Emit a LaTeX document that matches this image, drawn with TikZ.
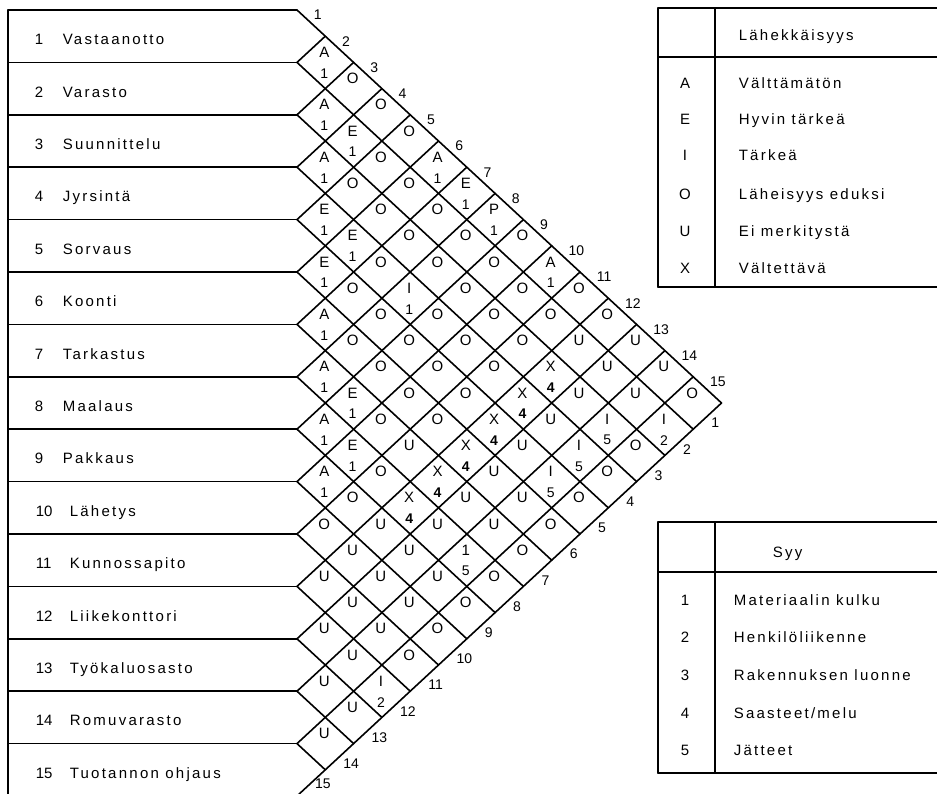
\documentclass[tikz,border=0pt]{standalone}
\usepackage{fontspec}
\setmainfont{Liberation Sans}
\newfontfamily\spaced{Liberation Sans}[LetterSpace=15]
\begin{document}
\begin{tikzpicture}[x=1pt,y=-1pt,line width=1.6pt,line cap=round,line join=miter,
  lbl/.style={font=\spaced\fontsize{15}{18}\selectfont,anchor=base west,inner sep=0pt},
  lnum/.style={font=\fontsize{15}{18}\selectfont,anchor=base west,inner sep=0pt},
  cell/.style={font=\fontsize{15}{16}\selectfont,inner sep=0pt},
  celld/.style={font=\fontsize{14}{16}\selectfont,inner sep=0pt},
  edgenum/.style={font=\fontsize{14}{16}\selectfont,anchor=west,inner sep=0pt},
  legl/.style={font=\fontsize{15}{18}\selectfont,anchor=base,inner sep=0pt}]
\useasboundingbox (0,0) rectangle (937,794);
\clip (0,0) rectangle (937,794);
\def\W{28.3}
\def\H{26.2}
% row boxes
\foreach \m in {0,...,15} \draw (8,{10+2*\H*\m}) -- (297,{10+2*\H*\m});
\draw (8,10) -- (8,{10+30*\H});
% diagonal grid
\foreach \m in {0,...,14} \draw (297,{10+2*\H*\m}) -- ++({(15-\m)*\W},{(15-\m)*\H});
\foreach \m in {1,...,15} \draw (297,{10+2*\H*\m}) -- ++({\m*\W},{-\m*\H});
% row labels
\foreach \i/\t in {1/Vastaanotto,2/Varasto,3/Suunnittelu,4/Jyrsintä,5/Sorvaus,6/Koonti,7/Tarkastus,8/Maalaus,9/Pakkaus}
  {\node[lnum] (n\i) at (34,{10+(2*\i-1)*\H+8.5}) {\i};
   \node[lbl] (r\i) at (62,{10+(2*\i-1)*\H+8.5}) {\t};}
\foreach \i/\t in {10/Lähetys,11/Kunnossapito,12/Liikekonttori,13/Työkaluosasto,14/Romuvarasto,15/Tuotannon ohjaus}
  {\node[lnum] (n\i) at (35,{10+(2*\i-1)*\H+8.5}) {\i};
   \node[lbl] (r\i) at (69,{10+(2*\i-1)*\H+8.5}) {\t};}
% edge numbers
\foreach \j in {1,...,15} \node[edgenum] (t\j) at ({297+(\j-1)*\W+16},{10+(\j-1)*\H+5}) {\j};
\foreach \k in {1,...,14} \node[edgenum] (b\k) at ({297+(16-\k)*\W-11},{10+(\k+14)*\H+20}) {\k};
\node[edgenum] (b15) at ({297+\W-11},784) {15};
% cell letters
\foreach \i/\j/\l in {1/2/A,2/3/A,3/4/A,4/5/E,5/6/E,6/7/A,7/8/A,8/9/A,9/10/A,10/11/O,11/12/U,12/13/U,13/14/U,14/15/U,
  1/3/O,2/4/E,3/5/O,4/6/E,5/7/O,6/8/O,7/9/E,8/10/E,9/11/O,10/12/U,11/13/U,12/14/U,13/15/U,
  1/4/O,2/5/O,3/6/O,4/7/O,5/8/O,6/9/O,7/10/O,8/11/O,9/12/U,10/13/U,11/14/U,12/15/I,
  1/5/O,2/6/O,3/7/O,4/8/I,5/9/O,6/10/O,7/11/U,8/12/X,9/13/U,10/14/U,11/15/O,
  1/6/A,2/7/O,3/8/O,4/9/O,5/10/O,6/11/O,7/12/X,8/13/U,9/14/U,10/15/O,
  1/7/E,2/8/O,3/9/O,4/10/O,5/11/O,6/12/X,7/13/U,8/14/1,9/15/O,
  1/8/P,2/9/O,3/10/O,4/11/O,5/12/X,6/13/U,7/14/U,8/15/O,
  1/9/O,2/10/O,3/11/O,4/12/X,5/13/U,6/14/U,7/15/O,
  1/10/A,2/11/O,3/12/X,4/13/U,5/14/I,6/15/O,
  1/11/O,2/12/U,3/13/U,4/14/I,5/15/O,
  1/12/O,2/13/U,3/14/I,4/15/O,
  1/13/U,2/14/U,3/15/O,
  1/14/U,2/15/I,
  1/15/O}
  \node[cell] (L\i-\j) at ({297+(\j-\i)*\W-1},{10+(\i+\j-1)*\H-10}) {\l};
% cell reasons
\foreach \i/\j/\n in {1/2/1,2/3/1,3/4/1,4/5/1,5/6/1,6/7/1,7/8/1,8/9/1,9/10/1,2/4/1,4/6/1,7/9/1,8/10/1,
  12/15/2,4/8/1,1/6/1,1/7/1,8/14/5,1/8/1,1/10/1,5/14/5,4/14/5,3/14/5,2/15/2}
  \node[celld] (D\i-\j) at ({297+(\j-\i)*\W-1},{10+(\i+\j-1)*\H+11}) {\n};
\foreach \i/\j in {8/12,7/12,6/12,5/12,4/12,3/12}
  \node[celld,font=\fontsize{14}{16}\selectfont\bfseries] (D\i-\j) at ({297+(\j-\i)*\W-1},{10+(\i+\j-1)*\H+11}) {4};
% legend 1
\draw (658,8) -- (945,8);
\draw (658,57) -- (945,57);
\draw (658,287) -- (945,287);
\draw (658,8) -- (658,287);
\draw (715,8) -- (715,287);
\node[lbl] (h1) at (738,41) {Lähekkäisyys};
\foreach \y/\c/\t [count=\q] in {83/A/Välttämätön,119/E/Hyvin tärkeä,155/I/Tärkeä,194/O/Läheisyys eduksi,231/U/Ei merkitystä,268/X/Vältettävä}
  {\node[legl] (la\q) at (685,{\y+5.4}) {\c};
   \node[lbl] (lt\q) at (738,{\y+5.4}) {\t};}
% legend 2
\draw (658,522) -- (945,522);
\draw (658,572) -- (945,572);
\draw (658,773) -- (945,773);
\draw (658,522) -- (658,773);
\draw (715,522) -- (715,773);
\node[lbl] (h2) at (772,557.4) {Syy};
\foreach \y/\t [count=\q] in {600/{Materiaalin kulku},637/{Henkilöliikenne},675/{Rakennuksen luonne},713/{Saasteet/melu},750/{Jätteet}}
  {\node[legl] (sa\q) at (685,{\y+5.4}) {\q};
   \node[lbl] (st\q) at (733,{\y+5.4}) {\t};}
\end{tikzpicture}
\end{document}
